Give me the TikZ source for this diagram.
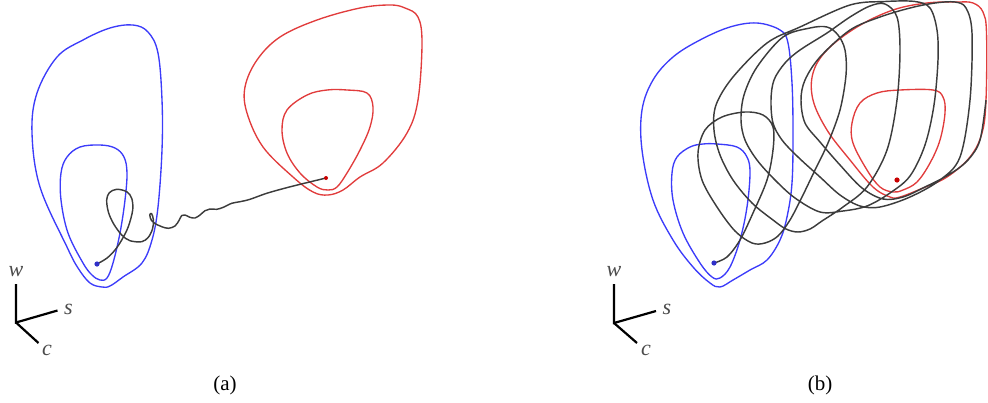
\documentclass[tikz,border=0pt]{standalone}
\usepackage{fontspec}
\setmainfont{Liberation Serif}
\definecolor{cblue}{RGB}{60,60,250}
\definecolor{cred}{RGB}{225,60,60}
\definecolor{cdot}{RGB}{200,0,0}
\definecolor{ctraj}{RGB}{60,60,60}
\definecolor{clab}{RGB}{75,75,75}
\begin{document}
\begin{tikzpicture}[x=1pt,y=-1pt,
  bluecurve/.style={draw=cblue, line width=1.35pt},
  redcurve/.style={draw=cred, line width=1.35pt},
  traj/.style={draw=ctraj, line width=1.45pt, line join=round},
  axisline/.style={draw=black, line width=2.2pt},
  axlabel/.style={text=clab, font=\fontsize{22}{26}\selectfont\itshape, inner sep=0pt},
  caption/.style={font=\fontsize{21}{25}\selectfont, inner sep=0pt}]
\useasboundingbox (0,0) rectangle (988,402);

% ---------------- panel (a) ----------------
\coordinate (ba) at (97,264);
\coordinate (ra) at (326,178);
\draw[bluecurve] plot[smooth cycle, tension=0.6] coordinates {(133,25) (148,32) (158,53) (162,100) (162,150) (158,207) (152,240) (142,263) (123,277) (110,286) (102,287) (90,283) (78,268) (67,247) (40,187) (32,133) (37,93) (57,57) (83,40) (110,28)};
\draw[bluecurve] plot[smooth cycle, tension=0.6] coordinates {(100,145) (115,148) (124,157) (127,173) (125,200) (120,233) (113,263) (107,278) (100,280) (92,275) (83,263) (68,233) (61,200) (61,173) (67,157) (80,147)};
\draw[redcurve] plot[smooth cycle, tension=0.6] coordinates {(390,5) (405,8) (418,17) (422,43) (418,100) (407,133) (383,163) (360,177) (343,190) (328,195) (313,192) (293,177) (263,147) (247,113) (245,87) (257,60) (280,37) (317,20) (360,8)};
\draw[redcurve] plot[smooth cycle, tension=0.6] coordinates {(347,90) (367,93) (373,107) (370,127) (360,150) (347,173) (337,187) (328,190) (317,187) (300,173) (287,153) (282,130) (287,110) (307,95) (327,90)};
\draw[traj] plot[smooth, tension=0.55] coordinates {(ba) (106.7,258.3) (115,250) (121.7,240) (128.3,226.7) (132.7,210) (131.7,198.3) (126.7,191.7) (116.7,189.3) (109.3,192.7) (106.7,200) (108.3,211.7) (113.3,223.3) (121.7,235) (130,240.7) (141.7,241.7) (148.3,237.3) (152.5,229) (153.5,220) (151.5,213.5) (149.8,215) (151.5,220.5) (156.7,224.5) (161.7,226.7) (168.3,228.3) (175,226) (179.3,220) (181.7,215.5) (185,215) (190,217.3) (195,218) (200,215) (205,210.7) (210,209) (216.7,209.3) (223.3,207.3) (231.7,203.3) (240,201.7) (250,199.3) (266.7,193.3) (286.7,187.7) (306.7,182.7) (ra)};
\fill[cblue!80!black] (ba) circle (2.6);
\fill[cdot] (ra) circle (2);

\coordinate (oa) at (16,322.5);
\coordinate (wa) at (16,284);
\coordinate (sa) at (57.5,310.5);
\coordinate (ca) at (38.5,343);
\draw[axisline] (wa) -- (oa) -- (sa);
\draw[axisline] (oa) -- (ca);
\node[axlabel] (wla) at (16,272) {w};
\node[axlabel] (sla) at (68.5,309) {s};
\node[axlabel] (cla) at (47,350) {c};
\node[caption] (capa) at (225,385) {(a)};

% ---------------- panel (b) ----------------
\coordinate (bb) at (714,263);
\coordinate (rb) at (897,180);
\draw[bluecurve] plot[smooth cycle, tension=0.6] coordinates {(757,23) (780,30) (788,43) (792,83) (793,133) (792,183) (787,217) (780,240) (767,260) (750,270) (733,280) (720,287) (710,283) (693,267) (673,240) (653,200) (642,150) (642,110) (653,80) (673,57) (700,40) (730,27)};
\draw[bluecurve] plot[smooth cycle, tension=0.6] coordinates {(717,144) (737,147) (747,157) (750,173) (747,207) (740,240) (730,267) (720,278) (712,277) (700,263) (683,233) (673,200) (672,173) (677,157) (690,147) (703,144)};
\draw[redcurve] plot[smooth cycle, tension=0.6] coordinates {(957,2) (973,3) (983,12) (986.5,33) (986,100) (982,133) (970,157) (947,177) (923,188) (900,197) (890,197) (873,187) (850,160) (827,130) (813,100) (813,73) (827,50) (857,27) (893,10) (927,3)};
\draw[redcurve] plot[smooth cycle, tension=0.6] coordinates {(900,90) (933,90) (943,97) (945,113) (940,140) (930,163) (917,182) (903,190) (893,192) (880,187) (867,170) (853,143) (852,123) (860,103) (877,93)};
\draw[traj] plot[smooth, tension=0.55] coordinates {(bb) (727,257) (740,240) (753,213) (767,180) (773,150) (773,127) (763,115) (745,112) (722,117) (705,130) (698,153) (702,180) (717,207) (735,231) (752,243) (765,243) (778,236) (790,220) (802,197) (815,170) (828,143) (840,110) (846,75) (845,50) (838,35) (827,27) (810,28) (783,37) (757,67) (744,95) (741,120) (745,140) (757,160) (775,180) (795,198) (820,212) (843,211) (867,206) (890,193) (910,176) (925,145) (934,105) (938,60) (937,30) (930,8) (915,1.5) (885,1.5) (850,5) (800,27) (767,43) (733,77) (716,105) (714,130) (720,155) (733,180) (752,203) (773,220) (786,229) (798,232) (810,229) (822,221) (843,207) (867,187) (887,150) (897,100) (900,50) (897,17) (885,4) (870,6) (850,17) (827,33) (800,50) (785,63) (774,80) (771,100) (773,123) (782,140) (798,157) (820,177) (840,195) (860,206) (880,207) (910,197) (940,180) (960,157) (970,100) (972,33) (966,8) (955,2) (935,3) (910,8) (880,17) (850,30) (820,57) (805,80) (801,100) (805,123) (820,142) (840,165) (862,188) (883,199) (903,197) (925,187) (950,174) (968,160) (980,140) (986,100)};
\fill[cblue!80!black] (bb) circle (2.6);
\fill[cdot] (rb) circle (2.6);

\coordinate (ob) at (614,323);
\coordinate (wb) at (614,284);
\coordinate (sb) at (656,311);
\coordinate (cb) at (637,343);
\draw[axisline] (wb) -- (ob) -- (sb);
\draw[axisline] (ob) -- (cb);
\node[axlabel] (wlb) at (614,272) {w};
\node[axlabel] (slb) at (667,309) {s};
\node[axlabel] (clb) at (646,350) {c};
\node[caption] (capb) at (820,385) {(b)};
\end{tikzpicture}
\end{document}
